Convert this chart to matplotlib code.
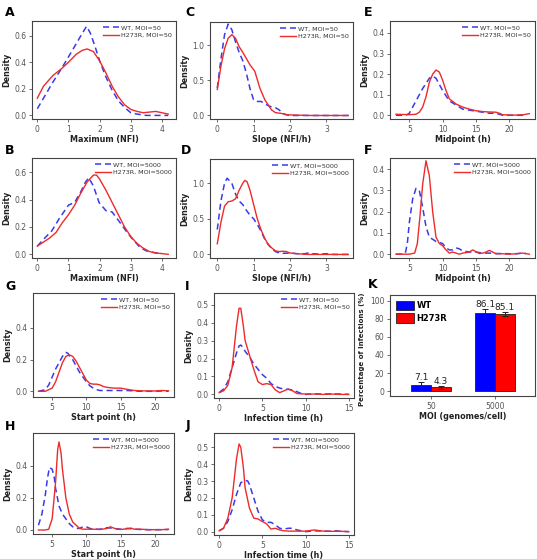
import matplotlib
matplotlib.use('Agg')
import matplotlib.pyplot as plt

W, H = 537, 559

# ---- data (density curves) ----
# A: Maximum (NFI), MOI=50
a_x_wt = [0, 0.25, 0.5, 0.77, 1.0, 1.25, 1.45, 1.58, 1.7, 1.85, 2.0, 2.2, 2.4, 2.6, 2.8, 3.0, 3.2, 3.5, 4.0, 4.2]
a_y_wt = [0.05, 0.15, 0.25, 0.35, 0.44, 0.54, 0.62, 0.67, 0.62, 0.52, 0.41, 0.29, 0.19, 0.11, 0.06, 0.02, 0.01, 0.0, 0.0, 0.0]
a_x_mut = [0, 0.2, 0.5, 0.77, 1.0, 1.25, 1.45, 1.6, 1.8, 2.0, 2.2, 2.4, 2.6, 2.8, 3.0, 3.2, 3.4, 3.6, 3.8, 4.0, 4.2]
a_y_mut = [0.13, 0.22, 0.3, 0.35, 0.4, 0.46, 0.49, 0.5, 0.48, 0.41, 0.32, 0.22, 0.14, 0.08, 0.045, 0.03, 0.02, 0.025, 0.03, 0.02, 0.01]

# B: Maximum (NFI), MOI=5000
b_x_wt = [0, 0.2, 0.46, 0.7, 1.0, 1.2, 1.4, 1.55, 1.65, 1.8, 1.98, 2.2, 2.4, 2.63, 2.85, 3.06, 3.3, 3.5, 3.8, 4.0]
b_y_wt = [0.06, 0.11, 0.17, 0.26, 0.36, 0.38, 0.46, 0.53, 0.56, 0.5, 0.38, 0.32, 0.31, 0.24, 0.17, 0.11, 0.05, 0.025, 0.01, 0.007]
b_x_mut = [0, 0.2, 0.4, 0.6, 0.8, 1.0, 1.2, 1.4, 1.6, 1.8, 1.9, 2.0, 2.2, 2.4, 2.6, 2.8, 3.0, 3.2, 3.4, 3.6, 3.8, 4.0, 4.2]
b_y_mut = [0.06, 0.09, 0.12, 0.16, 0.23, 0.29, 0.36, 0.45, 0.53, 0.58, 0.58, 0.55, 0.47, 0.38, 0.29, 0.2, 0.13, 0.08, 0.045, 0.02, 0.01, 0.005, 0.0]

# C: Slope (NFI/h), MOI=50
c_x_wt = [0, 0.1, 0.2, 0.3, 0.4, 0.5, 0.6, 0.7, 0.8, 0.9, 1.0, 1.1, 1.2, 1.3, 1.4, 1.5, 1.6, 1.7, 1.8, 1.9, 2.0, 2.5, 3.0, 3.6]
c_y_wt = [0.39, 0.8, 1.15, 1.3, 1.22, 1.05, 0.9, 0.78, 0.6, 0.38, 0.22, 0.2, 0.2, 0.17, 0.14, 0.12, 0.11, 0.08, 0.03, 0.01, 0.0, 0.0, 0.0, 0.0]
c_x_mut = [0, 0.1, 0.2, 0.3, 0.4, 0.5, 0.6, 0.71, 0.9, 1.03, 1.17, 1.31, 1.49, 1.6, 1.76, 1.9, 2.2, 2.6, 3.0, 3.6]
c_y_mut = [0.37, 0.7, 0.95, 1.1, 1.15, 1.1, 0.98, 0.89, 0.72, 0.63, 0.39, 0.22, 0.08, 0.04, 0.03, 0.01, 0.005, 0.0, 0.0, 0.0]

# D: Slope (NFI/h), MOI=5000
d_x_wt = [0, 0.1, 0.2, 0.27, 0.4, 0.5, 0.6, 0.7, 0.8, 0.9, 1.0, 1.1, 1.2, 1.3, 1.4, 1.5, 1.6, 1.7, 1.8, 2.0, 2.2, 2.4, 2.5, 2.6, 2.8, 3.0, 3.2, 3.6]
d_y_wt = [0.35, 0.75, 1.0, 1.07, 1.0, 0.85, 0.75, 0.7, 0.62, 0.55, 0.5, 0.42, 0.33, 0.22, 0.14, 0.08, 0.04, 0.02, 0.015, 0.02, 0.01, 0.01, 0.02, 0.01, 0.005, 0.01, 0.0, 0.0]
d_x_mut = [0, 0.1, 0.2, 0.3, 0.4, 0.5, 0.6, 0.7, 0.76, 0.82, 0.9, 1.0, 1.1, 1.2, 1.3, 1.4, 1.5, 1.6, 1.7, 1.8, 1.9, 2.0, 2.2, 2.5, 3.0, 3.6]
d_y_mut = [0.15, 0.45, 0.68, 0.74, 0.75, 0.78, 0.9, 1.0, 1.04, 1.02, 0.9, 0.7, 0.5, 0.35, 0.23, 0.14, 0.09, 0.05, 0.04, 0.045, 0.04, 0.02, 0.01, 0.0, 0.0, 0.0]

# E: Midpoint (h), MOI=50
e_x_wt = [3, 4, 4.6, 5, 6, 7, 8, 8.5, 9, 10, 11, 12, 13, 14, 15, 16, 17, 18, 19, 20, 22, 22.5]
e_y_wt = [0.0, 0.0, 0.002, 0.01, 0.07, 0.13, 0.18, 0.19, 0.18, 0.12, 0.07, 0.05, 0.03, 0.025, 0.02, 0.015, 0.01, 0.01, 0.0, 0.0, 0.0, 0.0]
e_x_mut = [3, 4, 5, 6, 6.5, 7, 7.5, 8, 8.5, 9, 9.5, 10, 10.5, 11, 12, 13, 14, 15, 16, 17, 18, 18.5, 19, 20, 21, 22, 23]
e_y_mut = [0.005, 0.004, 0.003, 0.005, 0.015, 0.04, 0.09, 0.16, 0.2, 0.22, 0.21, 0.17, 0.12, 0.08, 0.055, 0.04, 0.03, 0.022, 0.018, 0.016, 0.015, 0.01, 0.003, 0.001, 0.001, 0.002, 0.008]

# F: Midpoint (h), MOI=5000
f_x_wt = [3, 4, 4.4, 4.7, 5, 5.5, 6, 6.5, 7, 7.5, 8, 8.5, 9, 10, 10.5, 11, 11.5, 12, 12.5, 13, 14, 15, 16, 17, 18, 19, 20, 21, 22, 22.5]
f_y_wt = [0.0, 0.0, 0.005, 0.05, 0.15, 0.26, 0.31, 0.3, 0.22, 0.13, 0.08, 0.07, 0.06, 0.05, 0.03, 0.02, 0.02, 0.03, 0.025, 0.015, 0.01, 0.01, 0.005, 0.005, 0.003, 0.003, 0.002, 0.002, 0.005, 0.003]
f_x_mut = [3, 4, 5, 5.8, 6.2, 6.6, 7, 7.5, 8, 8.5, 9, 9.5, 10, 10.5, 11, 11.5, 12, 12.5, 13, 14, 14.5, 15, 15.5, 16, 16.5, 17, 17.5, 18, 19, 20, 21, 22, 23]
f_y_mut = [0.0, 0.0, 0.0, 0.005, 0.05, 0.18, 0.33, 0.44, 0.37, 0.2, 0.08, 0.05, 0.04, 0.02, 0.005, 0.01, 0.005, 0.0, 0.005, 0.01, 0.02, 0.012, 0.003, 0.005, 0.01, 0.018, 0.01, 0.002, 0.002, 0.0, 0.002, 0.005, 0.0]

# G: Start point (h), MOI=50
g_x_wt = [3, 4, 4.5, 5, 5.5, 6, 6.5, 7, 7.3, 7.5, 8, 8.5, 9, 9.5, 10, 10.5, 11, 11.5, 12, 13, 14, 15, 16, 17, 18, 20, 21, 22]
g_y_wt = [0.0, 0.01, 0.04, 0.09, 0.14, 0.18, 0.22, 0.245, 0.24, 0.225, 0.2, 0.16, 0.12, 0.09, 0.06, 0.035, 0.02, 0.01, 0.005, 0.005, 0.005, 0.005, 0.005, 0.002, 0.0, 0.0, 0.002, 0.0]
g_x_mut = [3, 4, 5, 5.5, 6, 6.5, 7, 7.5, 8, 8.5, 9, 9.5, 10, 10.5, 11, 11.5, 12, 12.5, 13, 14, 15, 16, 17, 18, 19, 20, 21, 22]
g_y_mut = [0.0, 0.0, 0.02, 0.06, 0.12, 0.18, 0.22, 0.23, 0.22, 0.19, 0.15, 0.11, 0.07, 0.05, 0.045, 0.045, 0.04, 0.03, 0.025, 0.02, 0.02, 0.012, 0.005, 0.003, 0.002, 0.002, 0.005, 0.003]

# H: Start point (h), MOI=5000
h_x_wt = [3, 3.5, 4, 4.3, 4.6, 5, 5.3, 5.5, 6, 6.5, 7, 7.5, 8, 8.5, 9, 9.5, 10, 10.5, 11, 12, 13, 14, 15, 16, 17, 18, 19, 20, 21, 22]
h_y_wt = [0.03, 0.1, 0.22, 0.32, 0.39, 0.38, 0.33, 0.26, 0.15, 0.1, 0.07, 0.04, 0.02, 0.01, 0.01, 0.02, 0.02, 0.01, 0.005, 0.005, 0.015, 0.01, 0.005, 0.01, 0.005, 0.003, 0.002, 0.002, 0.002, 0.003]
h_x_mut = [3, 4, 4.5, 5, 5.5, 5.8, 6.0, 6.3, 6.5, 7, 7.5, 8, 8.5, 9, 9.5, 10, 11, 12, 13, 13.5, 14, 14.5, 15, 16, 16.5, 17, 18, 19, 20, 21, 22]
h_y_mut = [0.0, 0.0, 0.005, 0.07, 0.3, 0.5, 0.55, 0.48, 0.38, 0.2, 0.1, 0.05, 0.03, 0.01, 0.005, 0.005, 0.005, 0.003, 0.01, 0.02, 0.012, 0.005, 0.003, 0.008, 0.012, 0.005, 0.005, 0.002, 0.002, 0.002, 0.005]

# I: Infection time (h), MOI=50
i_x_wt = [0, 0.5, 1, 1.5, 2, 2.3, 2.5, 2.8, 3, 3.5, 4, 4.5, 5, 5.5, 6, 6.5, 7, 7.5, 8, 8.5, 9, 9.5, 10, 11, 12, 13, 14, 15]
i_y_wt = [0.01, 0.03, 0.07, 0.15, 0.23, 0.27, 0.275, 0.26, 0.24, 0.21, 0.17, 0.14, 0.11, 0.09, 0.06, 0.045, 0.035, 0.03, 0.028, 0.025, 0.015, 0.005, 0.0, 0.003, 0.002, 0.003, 0.002, 0.0]
i_x_mut = [0, 0.5, 1, 1.5, 2, 2.3, 2.5, 2.8, 3, 3.5, 4, 4.5, 5, 5.5, 6, 6.5, 7, 7.5, 8, 8.5, 9, 10, 11, 12, 13, 14, 15]
i_y_mut = [0.01, 0.02, 0.05, 0.15, 0.38, 0.48, 0.48, 0.38, 0.3, 0.22, 0.14, 0.07, 0.055, 0.06, 0.055, 0.025, 0.01, 0.02, 0.03, 0.02, 0.005, 0.002, 0.002, 0.0, 0.002, 0.0, 0.0]

# J: Infection time (h), MOI=5000
j_x_wt = [0, 0.5, 1, 1.5, 2, 2.5, 3, 3.3, 3.5, 4, 4.5, 5, 5.5, 6, 6.5, 7, 7.5, 8, 8.5, 9, 10, 11, 12, 13, 13.5, 14, 15]
j_y_wt = [0.005, 0.02, 0.06, 0.13, 0.22, 0.29, 0.305, 0.3, 0.28, 0.2, 0.12, 0.07, 0.055, 0.055, 0.04, 0.02, 0.015, 0.02, 0.02, 0.01, 0.0, 0.005, 0.003, 0.002, 0.005, 0.002, 0.0]
j_x_mut = [0, 0.5, 1, 1.5, 2, 2.3, 2.5, 2.8, 3, 3.5, 4, 4.5, 5, 5.5, 6, 6.5, 7, 7.5, 8, 9, 10, 11, 12, 13, 14, 15]
j_y_mut = [0.005, 0.02, 0.08, 0.2, 0.43, 0.52, 0.5, 0.38, 0.26, 0.14, 0.08, 0.075, 0.06, 0.045, 0.015, 0.02, 0.01, 0.005, 0.003, 0.003, 0.003, 0.01, 0.003, 0.002, 0.002, 0.0]

# K: percentage of infections
moi_labels = ['50', '5000']
pct_wt = [7.1, 86.1]
pct_mut = [4.3, 85.1]
err_wt = [2.5, 4.5]
err_mut = [1.5, 2.0]

BLUE = '#3a3ae8'
RED = '#ee2a2a'
TICK_C = '#555555'


def ax_at(left, top, right, bottom):
    return fig.add_axes([left / W, 1 - bottom / H, (right - left) / W, (bottom - top) / H])


def style(ax):
    for s in ax.spines.values():
        s.set_color('#444444')
        s.set_linewidth(0.8)
    ax.tick_params(direction='out', length=2.5, width=0.6, colors=TICK_C,
                   labelsize=5.5, pad=1.5)


def density_panel(box, xw, yw, xm, ym, moi, xlabel, xlim, ylim, xticks, yticks):
    ax = ax_at(*box)
    ax.plot(xw, yw, color=BLUE, lw=1.1, dashes=(4, 2.5), label=f'WT, MOI={moi}')
    ax.plot(xm, ym, color=RED, lw=1.0, label=f'H273R, MOI={moi}')
    ax.set_xlim(*xlim)
    ax.set_ylim(*ylim)
    ax.set_xticks(xticks)
    ax.set_yticks(yticks)
    ax.set_yticklabels([f'{v:.1f}' for v in yticks])
    ax.set_xlabel(xlabel, fontsize=5.8, fontweight='bold', color='#222222', labelpad=1)
    ax.set_ylabel('Density', fontsize=5.8, fontweight='bold', color='#222222', labelpad=2)
    style(ax)
    leg = ax.legend(loc='upper right', frameon=False, fontsize=4.6, handlelength=2.6,
                    handletextpad=0.3, borderaxespad=0.2, labelspacing=0.35)
    for t in leg.get_texts():
        t.set_color('#333333')
    return ax


fig = plt.figure(figsize=(W / 100, H / 100), dpi=100)

density_panel((32, 21, 176, 119), a_x_wt, a_y_wt, a_x_mut, a_y_mut, 50, 'Maximum (NFI)',
              (-0.17, 4.45), (-0.027, 0.71), [0, 1, 2, 3, 4], [0, 0.2, 0.4, 0.6])
density_panel((32, 158, 176, 258), b_x_wt, b_y_wt, b_x_mut, b_y_mut, 5000, 'Maximum (NFI)',
              (-0.17, 4.45), (-0.027, 0.705), [0, 1, 2, 3, 4], [0, 0.2, 0.4, 0.6])
density_panel((210, 22, 353, 119), c_x_wt, c_y_wt, c_x_mut, c_y_mut, 50, 'Slope (NFI/h)',
              (-0.2, 3.73), (-0.05, 1.33), [0, 1, 2, 3], [0, 0.5, 1.0])
density_panel((210, 159, 353, 258), d_x_wt, d_y_wt, d_x_mut, d_y_mut, 5000, 'Slope (NFI/h)',
              (-0.2, 3.73), (-0.05, 1.34), [0, 1, 2, 3], [0, 0.5, 1.0])
density_panel((390, 21, 535, 119), e_x_wt, e_y_wt, e_x_mut, e_y_mut, 50, 'Midpoint (h)',
              (2.1, 23.85), (-0.018, 0.458), [5, 10, 15, 20], [0, 0.1, 0.2, 0.3, 0.4])
density_panel((390, 158, 535, 258), f_x_wt, f_y_wt, f_x_mut, f_y_mut, 5000, 'Midpoint (h)',
              (2.1, 23.85), (-0.018, 0.453), [5, 10, 15, 20], [0, 0.1, 0.2, 0.3, 0.4])
density_panel((33, 293, 174, 397), g_x_wt, g_y_wt, g_x_mut, g_y_mut, 50, 'Start point (h)',
              (2.2, 22.8), (-0.036, 0.62), [5, 10, 15, 20], [0, 0.2, 0.4])
density_panel((33, 433, 174, 534), h_x_wt, h_y_wt, h_x_mut, h_y_mut, 5000, 'Start point (h)',
              (2.2, 22.8), (-0.025, 0.606), [5, 10, 15, 20], [0, 0.2, 0.4])
density_panel((214, 293, 354, 398), i_x_wt, i_y_wt, i_x_mut, i_y_mut, 50, 'Infection time (h)',
              (-0.6, 15.6), (-0.02, 0.565), [0, 5, 10, 15], [0, 0.1, 0.2, 0.3, 0.4, 0.5])
density_panel((214, 433, 354, 535), j_x_wt, j_y_wt, j_x_mut, j_y_mut, 5000, 'Infection time (h)',
              (-0.6, 15.6), (-0.02, 0.585), [0, 5, 10, 15], [0, 0.1, 0.2, 0.3, 0.4, 0.5])

# K: bar chart
axk = ax_at(390, 295, 535, 396)
pos = [0, 1]
bw = 0.31
pos_wt = [p - bw / 2 for p in pos]
pos_mut = [p + bw / 2 for p in pos]
ekw = dict(ecolor='#222222', elinewidth=0.7, capsize=2, capthick=0.7)
axk.bar(pos_wt, pct_wt, width=bw, color='#0000ff', edgecolor='#222222', lw=0.6,
        yerr=err_wt, error_kw=ekw, label='WT')
axk.bar(pos_mut, pct_mut, width=bw, color='#ff0000', edgecolor='#222222', lw=0.6,
        yerr=err_mut, error_kw=ekw, label='H273R')
for x, v, e in zip(pos_wt + pos_mut, pct_wt + pct_mut, err_wt + err_mut):
    axk.text(x, v + e + 0.3, f'{v}', ha='center', va='bottom', fontsize=6.5, color='#222222')
axk.set_xlim(-0.64, 1.625)
axk.set_ylim(-5.5, 106.5)
axk.set_xticks(pos)
axk.set_xticklabels(moi_labels)
axk.set_yticks([0, 20, 40, 60, 80, 100])
axk.set_xlabel('MOI (genomes/cell)', fontsize=5.8, fontweight='bold', color='#222222', labelpad=1)
axk.set_ylabel('Percentage of Infections (%)', fontsize=5.0, fontweight='bold',
               color='#222222', labelpad=2)
axk.yaxis.set_label_coords(-0.17, 0.46)
style(axk)
legk = axk.legend(loc='upper left', frameon=False, fontsize=6, handlelength=2.2, handleheight=1.4,
                  handletextpad=0.3, borderaxespad=0.3, labelspacing=0.3)
for t in legk.get_texts():
    t.set_fontweight('bold')

# panel letters
letters = [('A', 5, 13), ('C', 185, 13), ('E', 364, 13),
           ('B', 5, 150), ('D', 181, 150), ('F', 364, 150),
           ('G', 5, 287), ('I', 185, 287), ('K', 368, 285),
           ('H', 5, 427), ('J', 186, 425)]
for s, x, y in letters:
    fig.text(x / W, 1 - y / H, s, fontsize=9, fontweight='bold', ha='left', va='center')

fig.savefig('out.png', dpi=100)
